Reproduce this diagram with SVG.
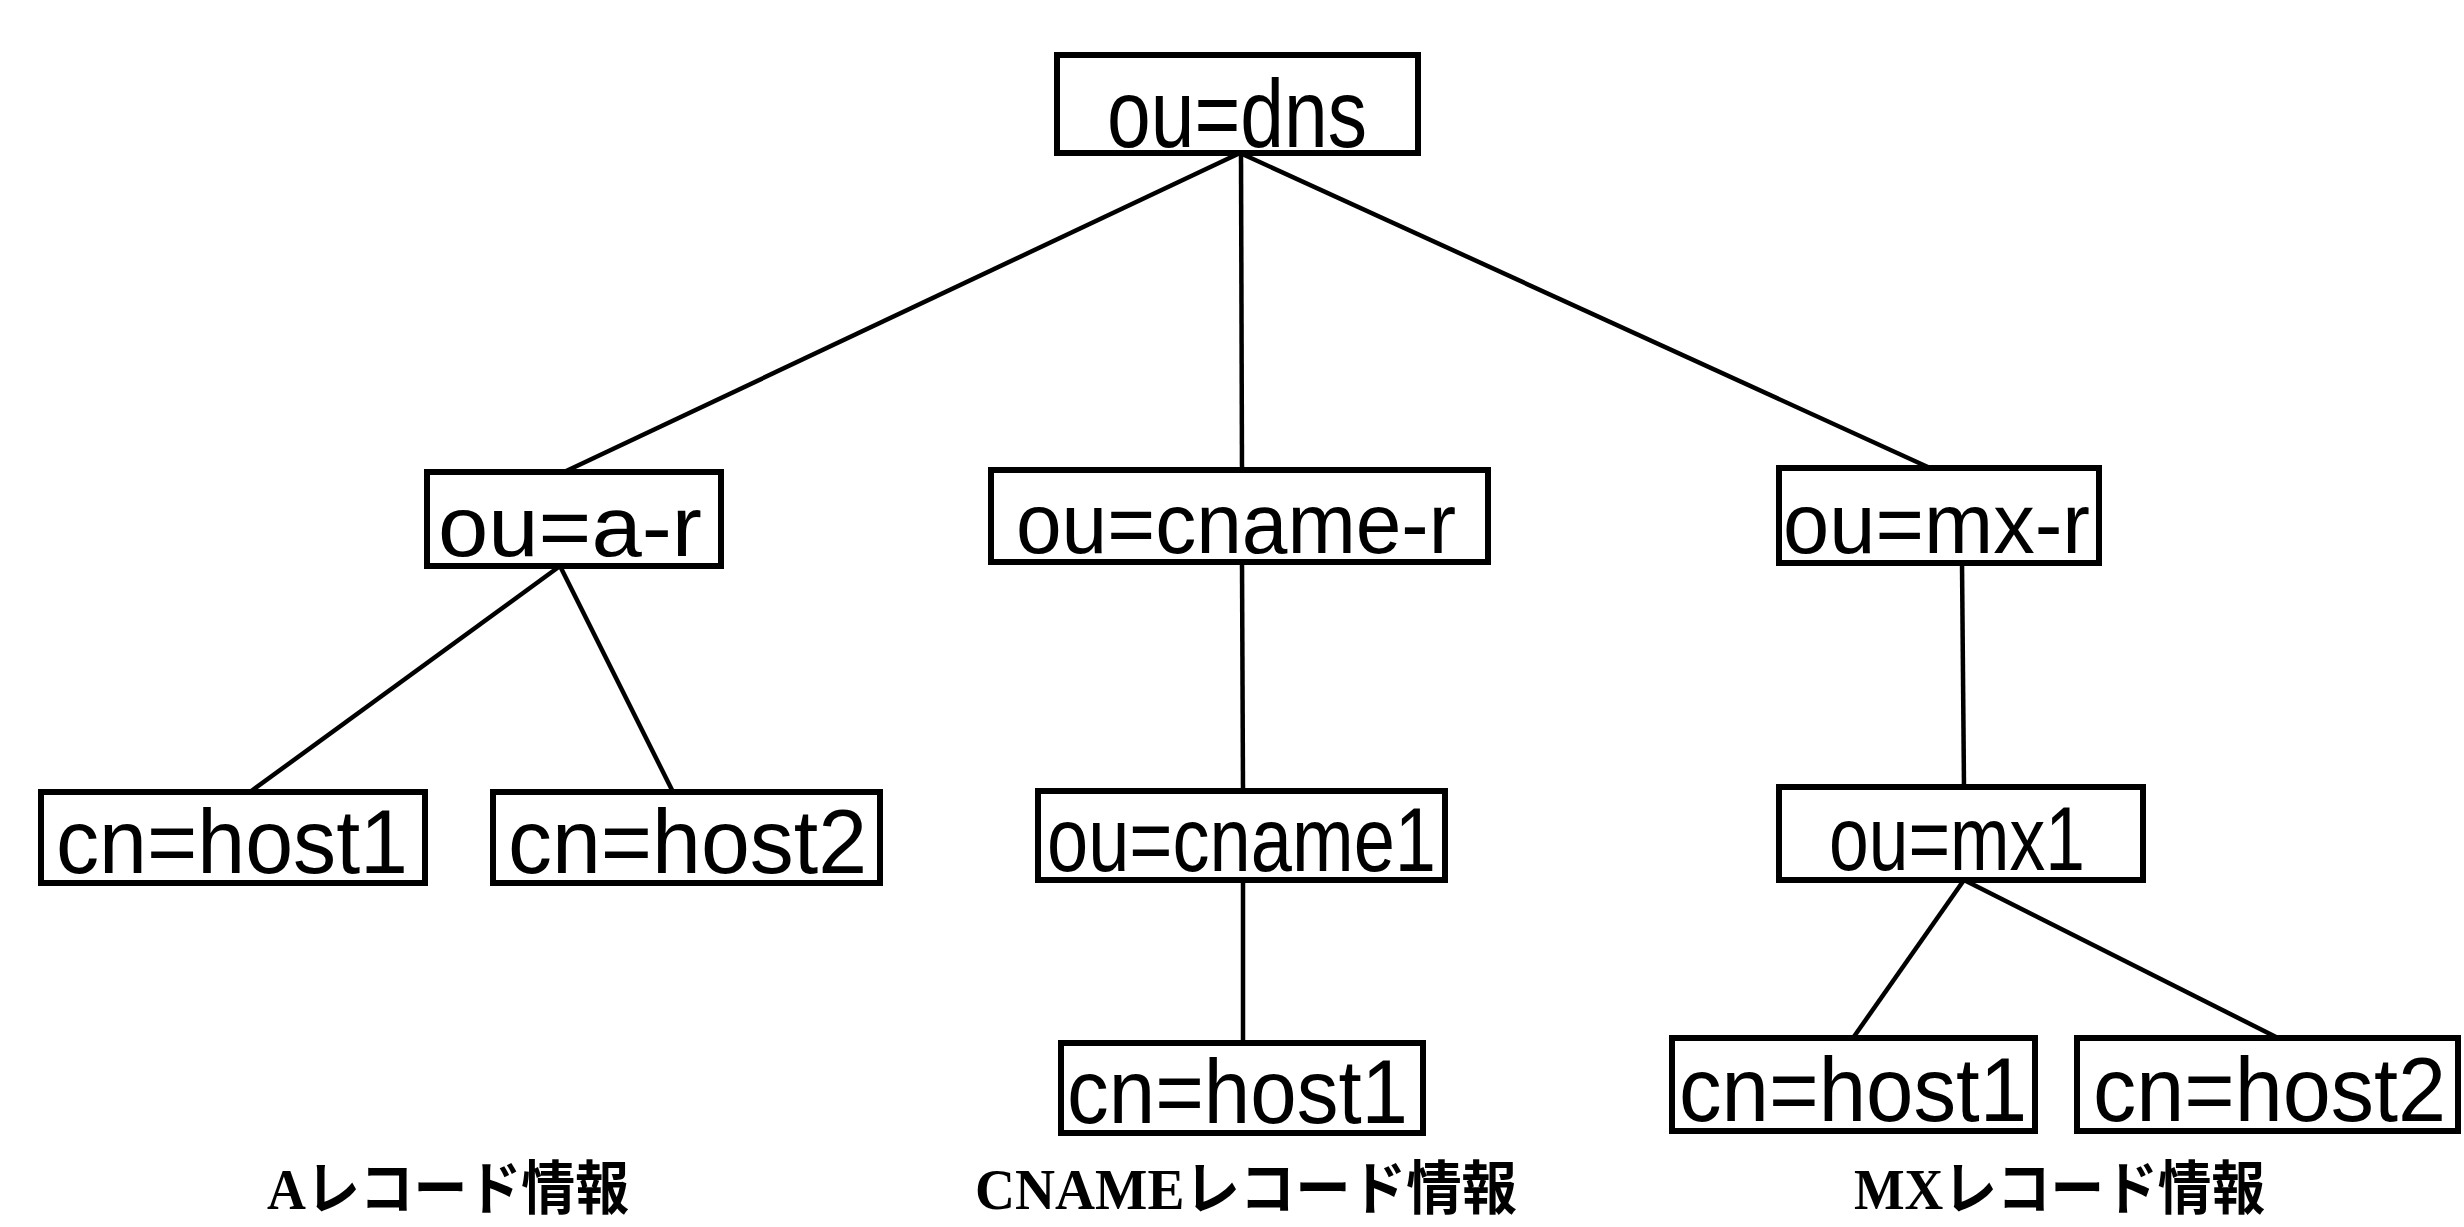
<svg xmlns="http://www.w3.org/2000/svg" width="2464" height="1227" viewBox="0 0 2464 1227">
<style>
.box{fill:#fff;stroke:#000;stroke-width:6}
.lbl{font-family:"Liberation Sans","Noto Sans CJK JP",sans-serif;font-size:90px;fill:#000}
.l1{font-size:86px}
.root{font-size:96px}
.cap{font-family:"Liberation Serif","Noto Sans CJK JP",serif;font-size:58px;font-weight:bold;fill:#000}
.edge{stroke:#000;stroke-width:4.5;fill:none}
</style>
<rect width="2464" height="1227" fill="#fff"/>
<g id="connectors">
<line class="edge" x1="1240" y1="153" x2="562" y2="473"/>
<line class="edge" x1="1241" y1="153" x2="1242" y2="470"/>
<line class="edge" x1="1240" y1="153" x2="1930" y2="468"/>
<line class="edge" x1="560" y1="566" x2="250" y2="792"/>
<line class="edge" x1="560" y1="566" x2="673" y2="792"/>
<line class="edge" x1="1242" y1="562" x2="1243" y2="791"/>
<line class="edge" x1="1962" y1="563" x2="1964" y2="787"/>
<line class="edge" x1="1243" y1="880" x2="1243" y2="1043"/>
<line class="edge" x1="1964" y1="880" x2="1853" y2="1038"/>
<line class="edge" x1="1964" y1="880" x2="2278" y2="1038"/>
</g>
<g id="n-dns"><rect class="box" x="1057" y="55" width="361" height="98"/><text class="lbl root" x="1107" y="147" textLength="260" lengthAdjust="spacingAndGlyphs">ou=dns</text></g>
<g id="n-ar"><rect class="box" x="427" y="472" width="294" height="94"/><text class="lbl l1" x="438" y="556" textLength="264" lengthAdjust="spacingAndGlyphs">ou=a-r</text></g>
<g id="n-cnamer"><rect class="box" x="991" y="470" width="497" height="92"/><text class="lbl l1" x="1016" y="553" textLength="440" lengthAdjust="spacingAndGlyphs">ou=cname-r</text></g>
<g id="n-mxr"><rect class="box" x="1779" y="468" width="320" height="95"/><text class="lbl l1" x="1783" y="553" textLength="307" lengthAdjust="spacingAndGlyphs">ou=mx-r</text></g>
<g id="n-a-host1"><rect class="box" x="41" y="792" width="384" height="91"/><text class="lbl" x="56" y="873" textLength="352" lengthAdjust="spacingAndGlyphs">cn=host1</text></g>
<g id="n-a-host2"><rect class="box" x="493" y="792" width="387" height="91"/><text class="lbl" x="508" y="873" textLength="359" lengthAdjust="spacingAndGlyphs">cn=host2</text></g>
<g id="n-cname1"><rect class="box" x="1038" y="791" width="407" height="89"/><text class="lbl" x="1047" y="871" textLength="389" lengthAdjust="spacingAndGlyphs">ou=cname1</text></g>
<g id="n-mx1"><rect class="box" x="1779" y="787" width="364" height="93"/><text class="lbl" x="1829" y="870" textLength="256" lengthAdjust="spacingAndGlyphs">ou=mx1</text></g>
<g id="n-cname-host1"><rect class="box" x="1061" y="1043" width="362" height="90"/><text class="lbl" x="1067" y="1123" textLength="341" lengthAdjust="spacingAndGlyphs">cn=host1</text></g>
<g id="n-mx-host1"><rect class="box" x="1672" y="1038" width="363" height="93"/><text class="lbl" x="1679" y="1121" textLength="348" lengthAdjust="spacingAndGlyphs">cn=host1</text></g>
<g id="n-mx-host2"><rect class="box" x="2077" y="1038" width="381" height="93"/><text class="lbl" x="2093" y="1121" textLength="353" lengthAdjust="spacingAndGlyphs">cn=host2</text></g>
<g id="captions">
<text class="cap" x="267" y="1209" textLength="362" lengthAdjust="spacingAndGlyphs">Aレコード情報</text>
<text class="cap" x="975" y="1209" textLength="542" lengthAdjust="spacingAndGlyphs">CNAMEレコード情報</text>
<text class="cap" x="1854" y="1209" textLength="411" lengthAdjust="spacingAndGlyphs">MXレコード情報</text>
</g>
</svg>
